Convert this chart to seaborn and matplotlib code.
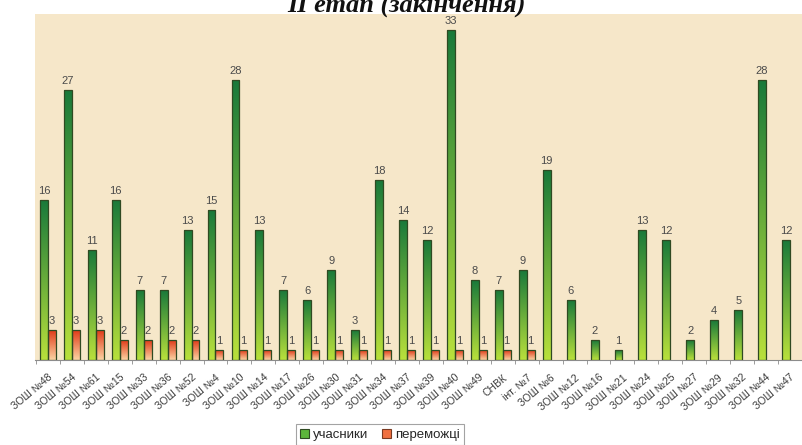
import numpy as np
import pandas as pd
import seaborn as sns
import matplotlib
matplotlib.use("Agg")
import matplotlib.pyplot as plt
from matplotlib.colors import to_rgb
from matplotlib.patches import Patch

# schools, participants, winners (winners only for the first 21 schools)
schools = ["ЗОШ №48", "ЗОШ №54", "ЗОШ №61", "ЗОШ №15", "ЗОШ №33", "ЗОШ №36",
           "ЗОШ №52", "ЗОШ №4", "ЗОШ №10", "ЗОШ №14", "ЗОШ №17", "ЗОШ №26",
           "ЗОШ №30", "ЗОШ №31", "ЗОШ №34", "ЗОШ №37", "ЗОШ №39", "ЗОШ №40",
           "ЗОШ №49", "СНВК", "інт. №7", "ЗОШ №6", "ЗОШ №12", "ЗОШ №16",
           "ЗОШ №21", "ЗОШ №24", "ЗОШ №25", "ЗОШ №27", "ЗОШ №29", "ЗОШ №32",
           "ЗОШ №44", "ЗОШ №47"]
participants = [16, 27, 11, 16, 7, 7, 13, 15, 28, 13, 7, 6, 9, 3, 18, 14, 12,
                33, 8, 7, 9, 19, 6, 2, 1, 13, 12, 2, 4, 5, 28, 12]
winners = [3, 3, 3, 2, 2, 2, 2, 1, 1, 1, 1, 1, 1, 1, 1, 1, 1, 1, 1, 1, 1]
series = ["учасники", "переможці"]

rows = [(s, series[0], v) for s, v in zip(schools, participants)]
rows += [(s, series[1], v) for s, v in zip(schools, winners)]
df = pd.DataFrame(rows, columns=["school", "group", "count"])

sns.set_style("white")
plt.rcParams["font.family"] = ["Liberation Sans", "DejaVu Sans"]

fig = plt.figure(figsize=(8.02, 4.45), dpi=100)
ax = fig.add_axes([35 / 802, 85 / 445, 767 / 802, 346 / 445])
ax.set_facecolor("#f6e7c9")

sns.barplot(data=df, x="school", y="count", hue="group", order=schools,
            hue_order=series, width=0.66, gap=0, ax=ax, legend=False,
            edgecolor="#2f4a22", linewidth=0.9,
            palette={series[0]: "#5cb53a", series[1]: "#f07040"})

# gradients: dark top -> light bottom
grads = {0: ("#1a7a3a", "#b8e03c"), 1: ("#e03a18", "#fcd3a2")}
n = 64
for i, cont in enumerate(ax.containers):
    top, bot = [np.array(to_rgb(c)) for c in grads[i]]
    t = np.linspace(0, 1, n)[:, None, None]
    img = top * (1 - t) + bot * t
    for p in cont.patches:
        h = p.get_height()
        if not np.isfinite(h) or h <= 0:
            continue
        x, w = p.get_x(), p.get_width()
        im = ax.imshow(img, extent=[x, x + w, 0, h], aspect="auto",
                       origin="upper", zorder=1.5, interpolation="bilinear")
        im.set_clip_path(p)
        p.set_facecolor("none")
        p.set_zorder(2)
        ax.text(x + w / 2, h + 0.45, f"{int(round(h))}", ha="center",
                va="bottom", fontsize=8, color="#4a4a4a")

ax.set_xlim(-0.54, 31.29)
ax.set_ylim(0, 34.6)
ax.set_xlabel("")
ax.set_ylabel("")
ax.set_yticks([])
for s in ["top", "right", "left"]:
    ax.spines[s].set_visible(False)
ax.spines["bottom"].set_color("#8c8c8c")
ax.spines["bottom"].set_linewidth(0.8)

ax.set_xticks(range(len(schools)))
ax.set_xticklabels(schools, rotation=40, ha="right", va="top",
                   rotation_mode="anchor", fontsize=7.5, color="#3a3a3a")
ax.set_xticks(np.arange(-0.5, len(schools), 1), minor=True)
ax.tick_params(axis="x", which="major", length=0, pad=9, bottom=True)
ax.tick_params(axis="x", which="minor", length=3, color="#8c8c8c",
               bottom=True, direction="out")

fig.text(406 / 802, 1 - 12 / 445, "ІІ етап (закінчення)", ha="center",
         va="baseline", fontsize=19, fontweight="bold", fontstyle="italic",
         family=["Liberation Serif", "DejaVu Serif"], color="#111111")

handles = [Patch(facecolor="#5cb53a", edgecolor="#2f4a22", linewidth=0.8),
           Patch(facecolor="#f07040", edgecolor="#7a3a22", linewidth=0.8)]
leg = fig.legend(handles, series, loc="upper center",
                 bbox_to_anchor=(380 / 802, 1 - 424 / 445), ncol=2,
                 fontsize=9.5, frameon=True, fancybox=False,
                 handlelength=0.7, handleheight=0.7, handletextpad=0.3,
                 columnspacing=1.0, borderpad=0.35, borderaxespad=0)
leg.get_frame().set_edgecolor("#8c8c8c")
leg.get_frame().set_linewidth(0.8)

fig.savefig("out.png", dpi=100)
